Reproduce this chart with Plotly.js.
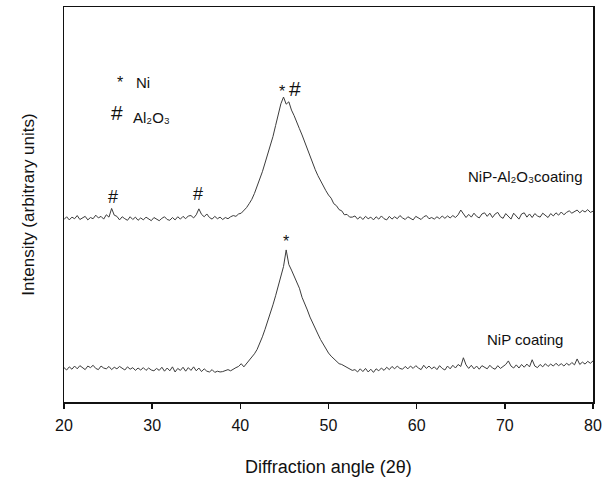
<!DOCTYPE html>
<html>
<head>
<meta charset="utf-8">
<script src="https://cdn.plot.ly/plotly-3.0.1.min.js"></script>
<style>html,body{margin:0;padding:0;background:#fff;}#chart{width:614px;height:477px;}</style>
</head>
<body>
<div id="chart"></div>
<script>
// Diffraction angle (2θ), degrees
var angle = [
20.0,20.3,20.6,20.9,21.2,21.5,21.8,22.1,22.4,22.7,
23.0,23.3,23.6,23.9,24.2,24.5,24.8,25.1,25.4,25.7,
26.0,26.3,26.6,26.9,27.2,27.5,27.8,28.1,28.4,28.7,
29.0,29.3,29.6,29.9,30.2,30.5,30.8,31.1,31.4,31.7,
32.0,32.3,32.6,32.9,33.2,33.5,33.8,34.1,34.4,34.7,
35.0,35.3,35.6,35.9,36.2,36.5,36.8,37.1,37.4,37.7,
38.0,38.3,38.6,38.9,39.2,39.5,39.8,40.1,40.4,40.7,
41.0,41.3,41.6,41.9,42.2,42.5,42.8,43.1,43.4,43.7,
44.0,44.3,44.6,44.9,45.2,45.5,45.8,46.1,46.4,46.7,
47.0,47.3,47.6,47.9,48.2,48.5,48.8,49.1,49.4,49.7,
50.0,50.3,50.6,50.9,51.2,51.5,51.8,52.1,52.4,52.7,
53.0,53.3,53.6,53.9,54.2,54.5,54.8,55.1,55.4,55.7,
56.0,56.3,56.6,56.9,57.2,57.5,57.8,58.1,58.4,58.7,
59.0,59.3,59.6,59.9,60.2,60.5,60.8,61.1,61.4,61.7,
62.0,62.3,62.6,62.9,63.2,63.5,63.8,64.1,64.4,64.7,
65.0,65.3,65.6,65.9,66.2,66.5,66.8,67.1,67.4,67.7,
68.0,68.3,68.6,68.9,69.2,69.5,69.8,70.1,70.4,70.7,
71.0,71.3,71.6,71.9,72.2,72.5,72.8,73.1,73.4,73.7,
74.0,74.3,74.6,74.9,75.2,75.5,75.8,76.1,76.4,76.7,
77.0,77.3,77.6,77.9,78.2,78.5,78.8,79.1,79.4,79.7,
80.0];

// NiP-Al2O3 coating (arbitrary units, offset trace)
var nipAl2o3 = [
46.2,46.9,46.1,46.8,46.4,47.2,46.2,46.7,47.0,46.1,
46.7,46.4,47.3,46.6,47.0,46.3,47.4,46.8,49.0,47.3,
47.0,46.1,46.9,46.4,46.0,46.9,46.2,46.8,46.0,46.6,
46.1,46.8,46.3,45.9,46.7,46.2,45.9,46.5,46.9,46.2,
46.0,46.7,46.1,46.9,46.3,47.0,46.4,47.1,47.2,46.6,
47.4,48.9,47.5,46.9,47.6,46.7,46.3,47.0,46.4,46.8,
46.2,46.7,46.4,46.9,47.2,47.0,47.6,47.8,48.5,49.2,
50.2,51.3,52.8,54.5,56.2,58.3,60.5,62.6,64.6,67.2,
70.0,72.5,75.5,77.2,75.4,76.0,73.9,72.5,70.6,69.2,
67.6,65.8,63.9,62.1,60.6,58.8,57.3,55.9,54.7,53.5,
52.4,51.6,50.2,49.7,48.7,48.4,47.4,47.5,46.8,46.8,
47.1,46.3,46.9,46.2,47.0,46.4,46.8,46.1,46.9,46.3,
47.1,46.4,46.1,47.0,46.3,46.9,46.4,47.2,46.6,46.2,
46.9,46.4,46.1,47.0,46.6,46.2,46.9,47.2,46.4,46.7,
46.3,46.9,46.4,47.1,46.5,47.1,46.6,47.2,46.7,47.4,
48.6,47.5,46.7,47.5,46.8,47.8,47.0,46.6,47.6,47.9,
47.0,47.8,46.7,47.6,48.0,46.9,46.5,47.7,47.1,46.3,
47.8,46.9,46.3,47.6,47.9,46.8,47.6,46.7,47.7,47.1,
46.8,47.8,47.2,46.7,47.7,47.1,47.9,47.3,48.1,47.4,
48.0,48.4,47.8,48.3,48.6,47.9,48.5,48.1,48.7,48.0,
48.3];

// NiP coating (arbitrary units)
var nip = [
8.7,8.1,8.9,8.3,9.1,8.4,9.2,8.6,8.2,9.1,
8.7,9.3,8.5,8.2,9.1,8.6,8.4,9.0,8.2,8.8,
8.4,9.0,8.5,8.1,8.9,8.3,8.7,8.0,8.6,8.1,
8.7,8.0,8.6,8.1,7.9,8.5,8.0,8.8,7.8,8.6,
7.9,8.9,7.6,8.5,8.0,8.8,7.8,8.7,8.0,8.9,
7.9,8.6,7.7,8.4,7.8,7.6,8.2,7.5,7.8,7.6,
7.7,8.0,8.2,7.9,8.4,8.7,9.0,9.7,8.9,9.7,
10.4,11.3,12.2,13.3,14.8,16.5,18.4,20.3,22.4,24.6,
26.9,29.2,31.6,34.3,38.5,34.8,33.4,32.0,30.6,28.8,
26.5,25.0,23.3,21.5,20.2,18.7,17.2,15.8,14.6,13.6,
12.4,11.6,11.0,10.3,9.7,9.5,9.1,8.6,8.2,8.0,
8.2,7.6,8.4,7.7,8.5,7.6,8.3,7.5,8.4,7.9,
8.6,8.0,8.8,8.2,9.0,8.4,9.1,8.5,8.3,9.0,
8.4,9.1,8.5,9.2,8.6,8.2,9.3,8.5,9.1,8.4,
8.9,8.2,9.2,8.5,8.1,9.1,8.4,9.3,8.6,9.5,
9.0,11.2,9.4,8.5,9.3,8.4,9.1,8.3,9.2,8.7,
8.4,9.3,8.6,8.3,9.2,8.5,8.9,9.5,10.4,9.1,
8.6,9.4,8.6,9.5,8.8,9.6,8.9,10.7,9.1,8.7,
9.5,8.9,9.7,9.0,9.6,9.1,9.8,9.2,9.7,9.1,
9.8,9.3,10.0,9.4,10.9,9.5,10.1,9.6,10.3,9.8,
10.4];

var xTicks = [20, 30, 40, 50, 60, 70, 80];

// Text labels on the chart
var labelText = ['*', 'Ni', '#', 'Al₂O₃', '*', '#', '#', '#',
                 'NiP-Al₂O₃coating', '*', 'NiP coating'];
var labelX = [26.35, 27.9, 26.0, 27.65, 44.67, 46.2, 25.52, 35.16, 65.6, 45.15, 67.7];
var labelY = [81.0, 81.0, 73.2, 71.9, 78.6, 79.4, 51.9, 52.6, 57.0, 40.6, 15.9];
var labelSize = [16, 15, 21, 15, 16, 21, 18, 18, 15, 16, 15];
var labelAnchor = ['center', 'left', 'center', 'left', 'center', 'center', 'center', 'center', 'left', 'center', 'left'];

var font = 'Liberation Sans, Arial, sans-serif';

var traces = [
  {x: angle, y: nipAl2o3, type: 'scatter', mode: 'lines', name: 'NiP-Al2O3 coating',
   line: {color: '#3c3c3c', width: 1}},
  {x: angle, y: nip, type: 'scatter', mode: 'lines', name: 'NiP coating',
   line: {color: '#3c3c3c', width: 1}}
];

var annotations = labelText.map(function (t, i) {
  return {x: labelX[i], y: labelY[i], xref: 'x', yref: 'y', text: t, showarrow: false,
          xanchor: labelAnchor[i], yanchor: 'middle',
          font: {family: font, size: labelSize[i], color: '#111'}};
});

var layout = {
  width: 614, height: 477,
  margin: {l: 64, r: 21, t: 7, b: 75},
  paper_bgcolor: '#fff', plot_bgcolor: '#fff',
  showlegend: false,
  font: {family: font, color: '#111'},
  xaxis: {
    range: [20, 80], tickvals: xTicks, ticktext: xTicks.map(String),
    ticks: 'outside', ticklen: 5, tickwidth: 1.5, tickcolor: '#111',
    ticklabelstandoff: 3,
    showline: true, linecolor: '#111', linewidth: 1.5, mirror: true,
    showgrid: false, zeroline: false,
    tickfont: {family: font, size: 16, color: '#111'},
    title: {text: 'Diffraction angle (2θ)', font: {family: font, size: 18, color: '#111'}, standoff: 27}
  },
  yaxis: {
    range: [0, 100], showticklabels: false, ticks: '',
    showline: true, linecolor: '#111', linewidth: 1.5, mirror: true,
    showgrid: false, zeroline: false,
    title: {text: 'Intensity (arbitrary units)', font: {family: font, size: 17, color: '#111'}, standoff: 23}
  },
  annotations: annotations
};

Plotly.newPlot('chart', traces, layout, {displayModeBar: false, staticPlot: true});
</script>
</body>
</html>
